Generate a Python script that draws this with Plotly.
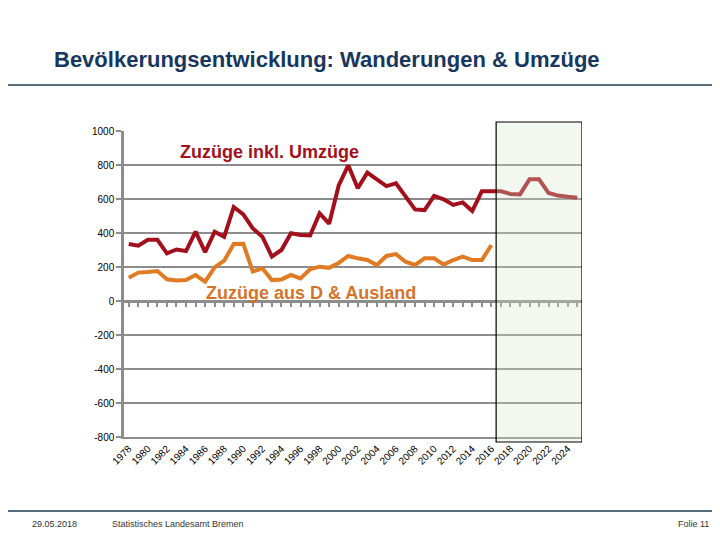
import plotly.graph_objects as go

years = [1978, 1979, 1980, 1981, 1982, 1983, 1984, 1985, 1986, 1987, 1988, 1989,
         1990, 1991, 1992, 1993, 1994, 1995, 1996, 1997, 1998, 1999, 2000, 2001,
         2002, 2003, 2004, 2005, 2006, 2007, 2008, 2009, 2010, 2011, 2012, 2013,
         2014, 2015, 2016, 2017, 2018, 2019, 2020, 2021, 2022, 2023, 2024, 2025]

zuzuege_inkl_umzuege = [335, 325, 360, 360, 280, 303, 294, 408, 288, 408, 378, 553,
                        510, 427, 378, 261, 300, 398, 388, 385, 515, 455, 680, 798,
                        663, 755, 716, 676, 692, 614, 539, 535, 618, 598, 565, 580,
                        529, 645, 645, 645, 630, 627, 716, 716, 635, 620, 613, 608]

zuzuege_d_ausland = [137, 167, 170, 176, 128, 120, 123, 153, 114, 198, 237, 335,
                     337, 173, 192, 123, 127, 153, 133, 186, 202, 195, 224, 265,
                     251, 241, 212, 265, 276, 231, 212, 251, 251, 214, 241, 261,
                     241, 241, 329]

x_tick_years = [1978, 1980, 1982, 1984, 1986, 1988, 1990, 1992, 1994, 1996, 1998,
                2000, 2002, 2004, 2006, 2008, 2010, 2012, 2014, 2016, 2018, 2020,
                2022, 2024]
x_tick_labels = [str(y) for y in x_tick_years]
y_tick_vals = [-800, -600, -400, -200, 0, 200, 400, 600, 800, 1000]
y_tick_labels = ["-800", "-600", "-400", "-200", "0", "200", "400", "600", "800", "1000"]

forecast_start = 2016.5

# page is 720x540; the browser adds an 8px body margin
OFF = 8
PAGE_W, PAGE_H = 720, 540
W, H = PAGE_W - OFF, PAGE_H - OFF
L, R, T, B = 124, 582, 131, 437  # plot area in page pixels


def px(xp):
    return (xp - L) / (R - L)


def py(yp):
    return (B - yp) / (B - T)


FONT = "Liberation Sans, Arial, sans-serif"
RED = "#A3101B"
ORANGE = "#E07B24"
GRID = "#8C8C8C"

fig = go.Figure()
fig.add_trace(go.Scatter(x=years, y=zuzuege_inkl_umzuege, mode="lines",
                         line=dict(color=RED, width=4), hoverinfo="skip",
                         showlegend=False))
fig.add_trace(go.Scatter(x=years[:len(zuzuege_d_ausland)], y=zuzuege_d_ausland,
                         mode="lines", line=dict(color=ORANGE, width=4),
                         xaxis="x2", hoverinfo="skip", showlegend=False))

xr = [years[0] - 0.5, years[-1] + 0.5]
yr = [y_tick_vals[0], y_tick_vals[-1]]

fig.update_layout(
    width=W, height=H,
    margin=dict(l=L - OFF, r=PAGE_W - R, t=T - OFF, b=PAGE_H - B, pad=0),
    paper_bgcolor="white", plot_bgcolor="white",
    font=dict(family=FONT, color="black"),
    xaxis=dict(range=xr, tickmode="array", tickvals=x_tick_years,
               ticktext=x_tick_labels, tickangle=-45, ticks="",
               showgrid=False, zeroline=False, showline=True,
               linecolor=GRID, linewidth=2, tickfont=dict(size=10, color="black")),
    xaxis2=dict(range=xr, overlaying="x", anchor="free",
                position=(0 - yr[0]) / (yr[1] - yr[0]),
                tickmode="linear", tick0=years[0], dtick=1,
                ticks="outside", ticklen=4, tickwidth=2, tickcolor=GRID,
                showticklabels=False, showgrid=False, zeroline=False,
                showline=True, linecolor=GRID, linewidth=3),
    yaxis=dict(range=yr, tickmode="array", tickvals=y_tick_vals,
               ticktext=y_tick_labels, showgrid=True, gridcolor=GRID,
               gridwidth=2, zeroline=False, showline=True, linecolor=GRID,
               linewidth=2.5, ticks="outside", ticklen=5, tickwidth=2,
               tickcolor=GRID, tickfont=dict(size=10, color="black")),
    title=dict(text="<b>Bevölkerungsentwicklung: Wanderungen & Umzüge</b>",
               xref="container", yref="container",
               x=(54 - OFF) / W, y=1 - (59 - OFF) / H,
               xanchor="left", yanchor="middle",
               font=dict(size=22, color="#17375E", family=FONT)),
)

# forecast box (semi-transparent overlay)
fig.add_shape(type="rect", xref="x", yref="paper", x0=forecast_start, x1=xr[1],
              y0=py(442), y1=py(122), layer="above",
              fillcolor="rgba(213,232,206,0.31)",
              line=dict(color="black", width=1.2))

# header and footer rules
fig.add_shape(type="line", xref="paper", yref="paper", x0=px(OFF), x1=px(PAGE_W),
              y0=py(85), y1=py(85), line=dict(color="#1F3B50", width=1.5))
fig.add_shape(type="line", xref="paper", yref="paper", x0=px(OFF), x1=px(PAGE_W),
              y0=py(511), y1=py(511), line=dict(color="#1F3B50", width=1.5))

fig.add_annotation(text="<b>Zuzüge inkl. Umzüge</b>", x=1992.7, y=876,
                   xref="x", yref="y", showarrow=False,
                   font=dict(size=18, color=RED, family=FONT))
fig.add_annotation(text="<b>Zuzüge aus D & Ausland</b>", x=1997.1, y=50,
                   xref="x", yref="y", showarrow=False,
                   font=dict(size=18, color="#D4742A", family=FONT))

fig.add_annotation(text="29.05.2018", x=px(30), y=py(524), xref="paper",
                   yref="paper", xanchor="left", yanchor="middle",
                   showarrow=False, font=dict(size=9, color="#333333"))
fig.add_annotation(text="Statistisches Landesamt Bremen", x=px(110), y=py(524),
                   xref="paper", yref="paper", xanchor="left", yanchor="middle",
                   showarrow=False, font=dict(size=9, color="#333333"))
fig.add_annotation(text="Folie 11", x=px(711), y=py(524), xref="paper",
                   yref="paper", xanchor="right", yanchor="middle",
                   showarrow=False, font=dict(size=9, color="#333333"))

fig.write_html("out.html")
